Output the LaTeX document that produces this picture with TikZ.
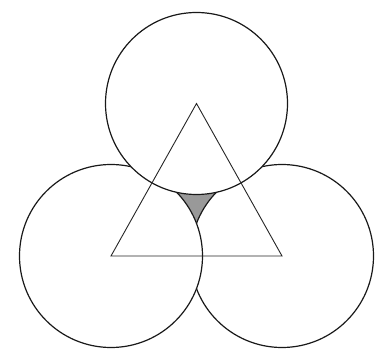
\documentclass[tikz,border=0pt]{standalone}
\begin{document}
\begin{tikzpicture}[x=1pt,y=-1pt,
  disc/.style={draw=black!90,line width=1.2pt,fill=white},
  tri/.style={draw=black!85,line width=0.9pt,line join=miter}]
\useasboundingbox (0,0) rectangle (386,350);
\fill[white] (0,0) rectangle (386,350);
\coordinate (T) at (196.5,103.5);
\coordinate (L) at (111,256);
\coordinate (R) at (282,256);
\fill[black!40] (T) -- (L) -- (R) -- cycle;
\draw[disc] (R) circle[radius=91.5];
\draw[disc] (L) circle[radius=91.5];
\draw[disc] (T) circle[radius=91];
\draw[tri] (T) -- (L) -- (R) -- cycle;
\end{tikzpicture}
\end{document}
